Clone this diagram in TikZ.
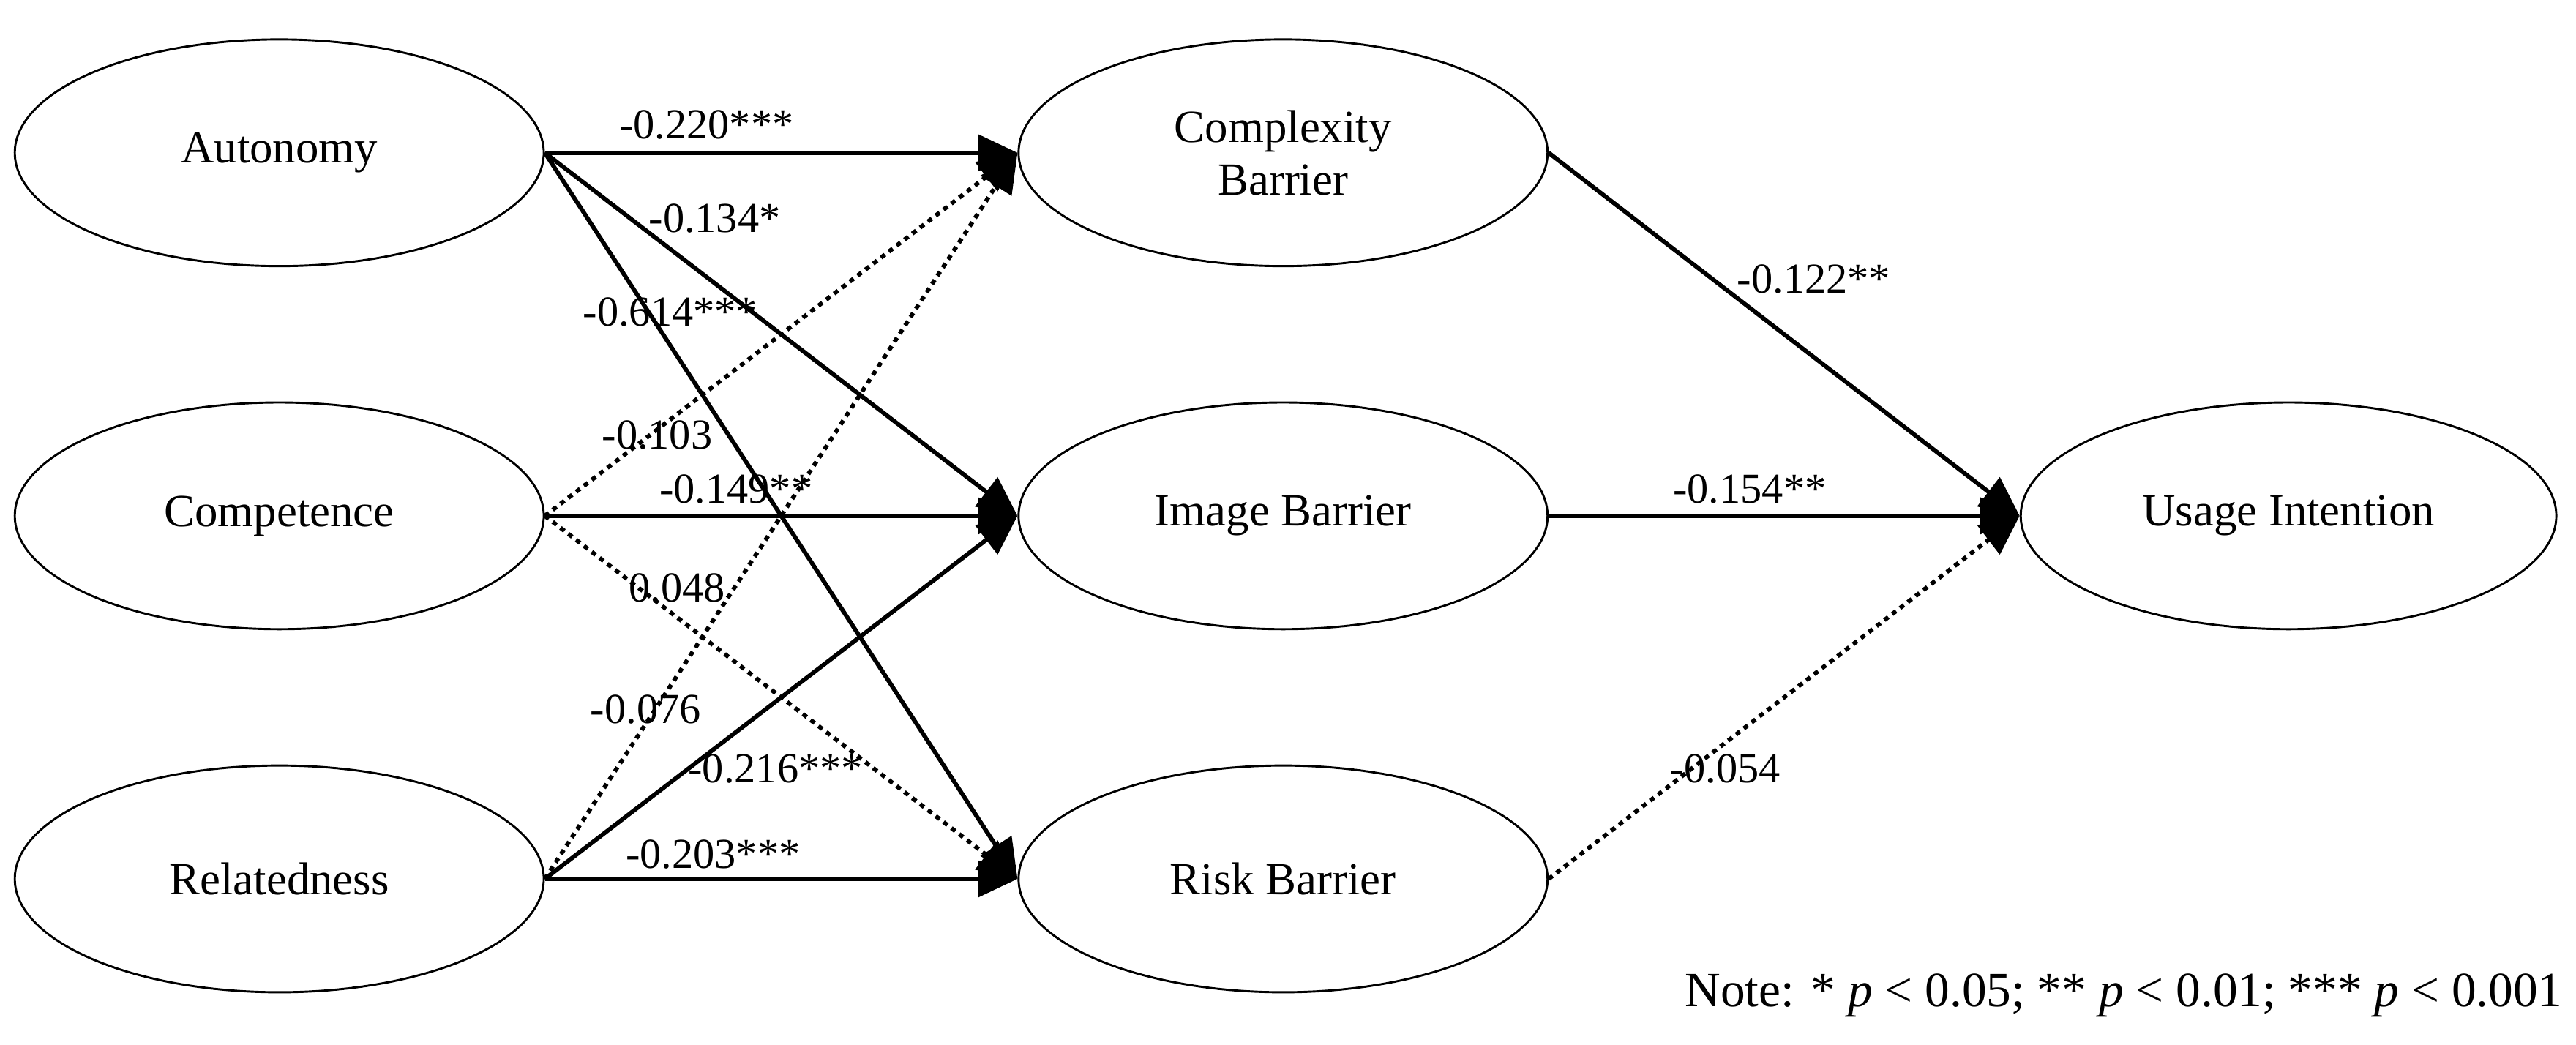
\documentclass[tikz,border=0pt]{standalone}
\usepackage{fontspec}
\setmainfont{Liberation Serif}
\usetikzlibrary{shapes.geometric,arrows.meta}
\begin{document}
\begin{tikzpicture}[x=1pt,y=-1pt,
  el/.style={draw,ellipse,line width=1.3pt,minimum width=322pt,minimum height=138pt,align=center,font=\fontsize{28}{32}\selectfont},
  ar/.style={line width=2.6pt,-{Triangle[length=24pt,width=22pt]}},
  dt/.style={ar,dash pattern=on 3pt off 3pt},
  lb/.style={font=\fontsize{26}{28}\selectfont,inner sep=0pt}]
\useasboundingbox (0,0) rectangle (1568,636);
\node[el] (A) at (170,93) {Autonomy};
\node[el] (C) at (170,314) {Competence};
\node[el] (R) at (170,535) {Relatedness};
\node[el] (CB) at (781,93) {Complexity\\Barrier};
\node[el] (IB) at (781,314) {Image Barrier};
\node[el] (RB) at (781,535) {Risk Barrier};
\node[el,minimum width=326pt] (UI) at (1393,314) {Usage Intention};
\draw[ar] (A.east) -- (CB.west);
\draw[ar] (A.east) -- (IB.west);
\draw[ar] (A.east) -- (RB.west);
\draw[dt] (C.east) -- (CB.west);
\draw[ar] (C.east) -- (IB.west);
\draw[dt] (C.east) -- (RB.west);
\draw[dt] (R.east) -- (CB.west);
\draw[ar] (R.east) -- (IB.west);
\draw[ar] (R.east) -- (RB.west);
\draw[ar] (CB.east) -- (UI.west);
\draw[ar] (IB.east) -- (UI.west);
\draw[dt] (RB.east) -- (UI.west);
\node[lb] (l1) at (430,76) {-0.220***};
\node[lb] (l2) at (435,133) {-0.134*};
\node[lb] (l3) at (408,190) {-0.614***};
\node[lb] (l4) at (400,265) {-0.103};
\node[lb] (l5) at (448,298) {-0.149**};
\node[lb] (l6) at (412,358) {0.048};
\node[lb] (l7) at (393,432) {-0.076};
\node[lb] (l8) at (472,468) {-0.216***};
\node[lb] (l9) at (434,520) {-0.203***};
\node[lb] (l10) at (1104,170) {-0.122**};
\node[lb] (l11) at (1065,298) {-0.154**};
\node[lb] (l12) at (1050,468) {-0.054};
\node[font=\fontsize{30}{32}\selectfont,anchor=east,inner sep=0pt] (n) at (1560,606) {Note: * \textit{p} < 0.05; ** \textit{p} < 0.01; *** \textit{p} < 0.001};
\end{tikzpicture}
\end{document}
